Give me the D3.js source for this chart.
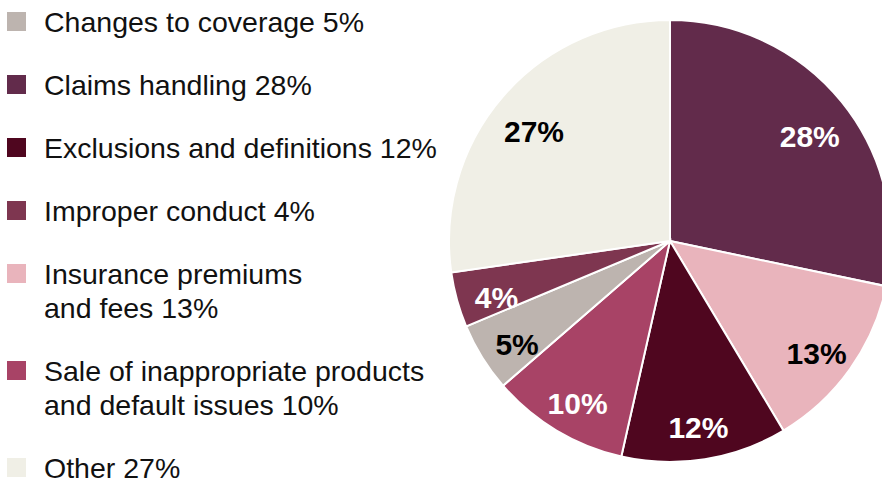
<!DOCTYPE html>
<html>
<head>
<meta charset="utf-8">
<script src="https://cdn.jsdelivr.net/npm/d3@7"></script>
<style>
  body { margin: 0; background: #fff; }
  svg { display: block; font-family: "Liberation Sans", Arial, sans-serif; }
</style>
</head>
<body>
<div id="chart"></div>
<script>
// legend entries (top to bottom), lines split where the legend wraps
const legendLines = [
  ["Changes to coverage 5%"],
  ["Claims handling 28%"],
  ["Exclusions and definitions 12%"],
  ["Improper conduct 4%"],
  ["Insurance premiums", "and fees 13%"],
  ["Sale of inappropriate products", "and default issues 10%"],
  ["Other 27%"]
];
const legendColors = ["#bdb4af", "#622b4b", "#4f061f", "#7e3650", "#e9b4bc", "#a84366", "#f0efe6"];

// pie slices clockwise from 12 o'clock
const sliceNames = ["Claims handling", "Insurance premiums and fees", "Exclusions and definitions",
  "Sale of inappropriate products", "Changes to coverage", "Improper conduct", "Other"];
const sliceValues = [28, 13, 12, 10, 5, 4, 27];
const sliceColors = ["#622b4b", "#e9b4bc", "#4f061f", "#a84366", "#bdb4af", "#7e3650", "#f0efe6"];
const labelColors = ["#fff", "#000", "#fff", "#fff", "#000", "#fff", "#000"];

const width = 882, height = 481;
const svg = d3.select("#chart").append("svg")
  .attr("width", width)
  .attr("height", height);

// legend
const legend = svg.append("g");
let y = 32;
legendLines.forEach((lines, i) => {
  legend.append("rect")
    .attr("x", 7)
    .attr("y", y - 20)
    .attr("width", 19)
    .attr("height", 19)
    .attr("fill", legendColors[i]);
  lines.forEach((t, j) => {
    legend.append("text")
      .attr("x", 44)
      .attr("y", y + j * 34)
      .attr("font-size", 28.5)
      .attr("fill", "#111")
      .text(t);
  });
  y += (lines.length - 1) * 34 + 63;
});

// pie
const radius = 221;
const g = svg.append("g").attr("transform", "translate(670,241)");

const pie = d3.pie().sort(null).value(d => d)(sliceValues);
const arc = d3.arc().innerRadius(0).outerRadius(radius);
const labelArc = d3.arc().innerRadius(180).outerRadius(180);

g.selectAll("path")
  .data(pie)
  .enter()
  .append("path")
  .attr("d", arc)
  .attr("fill", (d, i) => sliceColors[i])
  .attr("stroke", "#fff")
  .attr("stroke-width", 2);

// labels sit a little below the centroid, as in the original
g.selectAll("text")
  .data(pie)
  .enter()
  .append("text")
  .attr("transform", d => `translate(${labelArc.centroid(d)})`)
  .attr("text-anchor", "middle")
  .attr("y", 19)
  .attr("font-size", 30)
  .attr("font-weight", "bold")
  .attr("fill", (d, i) => labelColors[i])
  .text(d => d.data + "%");
</script>
</body>
</html>
